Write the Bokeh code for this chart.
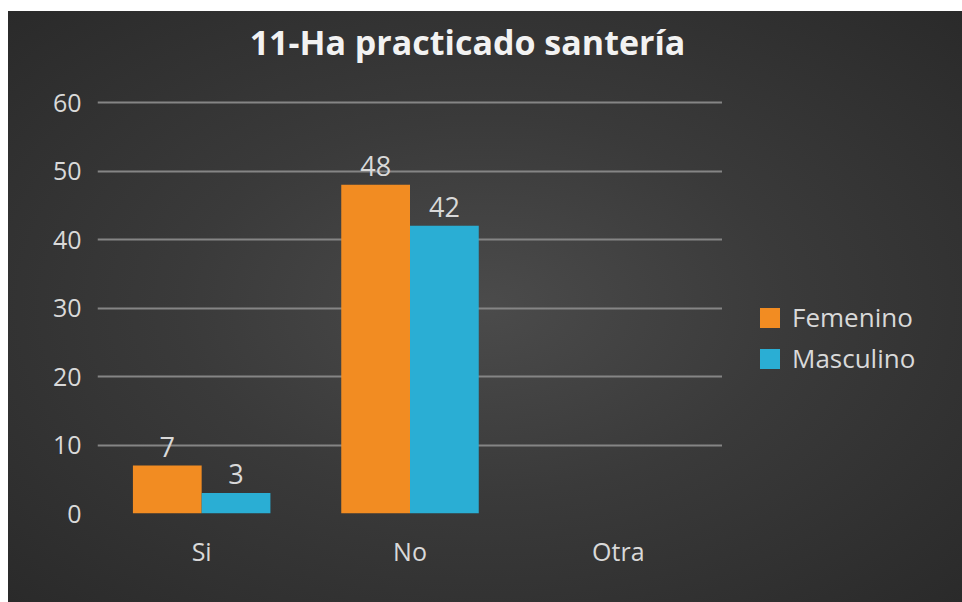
from bokeh.plotting import figure
from bokeh.models import (FactorRange, Range1d, ColumnDataSource, Legend, LegendItem,
                          FixedTicker, Label, Row)
from bokeh.transform import dodge
from bokeh.embed import file_html
from bokeh.resources import INLINE
from bokeh.core.properties import value

categories = ["Si", "No", "Otra"]
femenino = [7, 48, None]
masculino = [3, 42, None]
y_ticks = [0, 10, 20, 30, 40, 50, 60]
title_text = "11-Ha practicado santería"
series_names = ["Femenino", "Masculino"]
colors = ["#f28c22", "#2aaed4"]

FONT = "Open Sans"
TXT = "#d9d9d9"

src = ColumnDataSource(dict(
    cat=categories,
    fem=[float("nan") if v is None else v for v in femenino],
    mas=[float("nan") if v is None else v for v in masculino],
    fem_lbl=["" if v is None else str(v) for v in femenino],
    mas_lbl=["" if v is None else str(v) for v in masculino],
))

# main chart: frame reaches the top edge so the title can live inside it
p = figure(
    title=None,
    x_range=FactorRange(*categories, range_padding=0),
    y_range=Range1d(0, 73.3),
    width=714, height=591,
    output_backend="svg", toolbar_location=None,
    min_border_left=89, min_border_right=0, min_border_top=0, min_border_bottom=89,
)
p.background_fill_alpha = 0
p.border_fill_alpha = 0
p.outline_line_color = None

r1 = p.vbar(x=dodge("cat", -0.165, range=p.x_range), top="fem", width=0.33, source=src,
            color=colors[0], line_color=None)
r2 = p.vbar(x=dodge("cat", 0.165, range=p.x_range), top="mas", width=0.33, source=src,
            color=colors[1], line_color=None)

p.text(x=dodge("cat", -0.165, range=p.x_range), y="fem", text="fem_lbl", source=src,
       text_align="center", text_baseline="bottom", y_offset=-9,
       text_font=value(FONT), text_font_size="27px", text_color=TXT)
p.text(x=dodge("cat", 0.165, range=p.x_range), y="mas", text="mas_lbl", source=src,
       text_align="center", text_baseline="bottom", y_offset=-9,
       text_font=value(FONT), text_font_size="27px", text_color=TXT)

p.add_layout(Label(x=370, y=472, x_units="screen", y_units="screen", text=title_text,
                   text_align="center", text_baseline="alphabetic",
                   text_font=FONT, text_font_size="34px", text_font_style="bold",
                   text_color="#f2f2f2"))

p.yaxis.ticker = FixedTicker(ticks=y_ticks)
p.ygrid.ticker = FixedTicker(ticks=y_ticks[1:])
p.ygrid.grid_line_color = "#858585"
p.ygrid.grid_line_width = 2
p.xgrid.grid_line_color = None

for ax in (p.xaxis, p.yaxis):
    ax.axis_line_color = None
    ax.major_tick_line_color = None
    ax.minor_tick_line_color = None
    ax.major_label_text_color = TXT
    ax.major_label_text_font = FONT
    ax.major_label_text_font_size = "25px"
p.yaxis.major_label_standoff = 10
p.xaxis.major_label_standoff = 14

# legend panel on the right (its own renderers are hidden; legend shows them normally)
q = figure(width=240, height=591, x_range=FactorRange(*categories), y_range=Range1d(0, 60),
           output_backend="svg", toolbar_location=None, title=None,
           min_border_left=0, min_border_right=0, min_border_top=0, min_border_bottom=0)
q.background_fill_alpha = 0
q.border_fill_alpha = 0
q.outline_line_color = None
q.axis.visible = False
q.grid.visible = False
l1 = q.vbar(x="cat", top="fem", width=0.33, source=src, color=colors[0], line_color=None)
l2 = q.vbar(x="cat", top="mas", width=0.33, source=src, color=colors[1], line_color=None)
l1.visible = False
l2.visible = False

legend = Legend(items=[LegendItem(label=series_names[0], renderers=[l1]),
                       LegendItem(label=series_names[1], renderers=[l2])],
                location=(35, 137), orientation="vertical",
                background_fill_alpha=0, border_line_color=None,
                inactive_fill_alpha=0,
                label_text_color=TXT, label_text_font=FONT, label_text_font_size="26px",
                glyph_width=25, glyph_height=25, label_standoff=10, spacing=5, padding=0, margin=0)
q.add_layout(legend)

layout = Row(p, q, spacing=0)
layout.margin = (11, 0, 0, 8)
layout.styles = {"background": "radial-gradient(ellipse at 50% 50%, #4b4b4b 0%, #3a3a3a 45%, #2a2a2a 100%)"}

open("out.html", "w").write(file_html(layout, INLINE))
